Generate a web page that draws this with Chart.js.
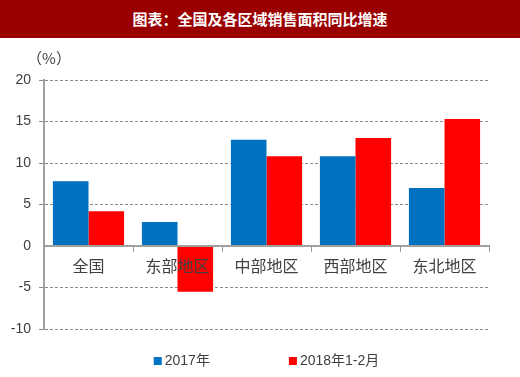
<!DOCTYPE html>
<html lang="zh-CN">
<head>
<meta charset="UTF-8">
<title>全国及各区域销售面积同比增速</title>
<script src="https://cdn.jsdelivr.net/npm/chart.js"></script>
<style>
  body { margin: 0; background: #fff; font-family: 'Noto Sans CJK SC', sans-serif; }
  .title-bar {
    width: 520px; height: 38px; background: #9b0000; color: #fff;
    font-weight: bold; font-size: 15px; line-height: 38px; text-align: center;
  }
  .chart-box { position: relative; width: 520px; height: 339px; }
</style>
</head>
<body>
<div class="title-bar">图表：全国及各区域销售面积同比增速</div>
<div class="chart-box"><canvas id="areaChart"></canvas></div>
<script>
const categories = ['全国', '东部地区', '中部地区', '西部地区', '东北地区'];
const seriesNames = ['2017年', '2018年1-2月'];
const values2017 = [7.8, 2.9, 12.8, 10.8, 7.0];
const values2018 = [4.2, -5.5, 10.8, 13.0, 15.3];
const seriesColors = ['#0070c0', '#ff0000'];
const yTicks = [-10, -5, 0, 5, 10, 15, 20];

// legend drawn by hand so the wide gap between items can match
const bottomLegend = {
  id: 'bottomLegend',
  afterDraw(chart) {
    const ctx = chart.ctx;
    const area = chart.chartArea;
    ctx.save();
    ctx.font = '14px "Liberation Sans", "Noto Sans CJK SC", sans-serif';
    const box = 8, gap = 3, itemGap = 79;
    const items = chart.data.datasets.map(ds => ({
      text: ds.label,
      color: ds.backgroundColor,
      w: box + gap + ctx.measureText(ds.label).width
    }));
    const total = items.reduce((s, it) => s + it.w, 0) + itemGap * (items.length - 1);
    let x = (area.left + area.right) / 2 - total / 2;
    const y = area.bottom + 32;
    ctx.textBaseline = 'middle';
    items.forEach(it => {
      ctx.fillStyle = it.color;
      ctx.fillRect(x, y - 4, box, box);
      ctx.fillStyle = '#404040';
      ctx.fillText(it.text, x + box + gap, y);
      x += it.w + itemGap;
    });
    // unit label above the y axis
    ctx.textAlign = 'center';
    ctx.font = '15px "Noto Sans CJK SC", sans-serif';
    ctx.fillText('（%）', area.left + 5, area.top - 22);
    ctx.restore();
  }
};

new Chart(document.getElementById('areaChart'), {
  type: 'bar',
  data: {
    labels: categories,
    datasets: [
      { label: seriesNames[0], data: values2017, backgroundColor: seriesColors[0] },
      { label: seriesNames[1], data: values2018, backgroundColor: seriesColors[1] }
    ]
  },
  options: {
    responsive: true,
    maintainAspectRatio: false,
    animation: false,
    categoryPercentage: 0.8,
    barPercentage: 1.0,
    layout: { padding: { top: 42, right: 31, bottom: 48, left: 0 } },
    plugins: {
      legend: { display: false },
      tooltip: { enabled: false }
    },
    scales: {
      x: {
        type: 'category',
        position: { y: 0 },
        grid: { offset: true, drawOnChartArea: false, tickLength: 5, color: '#999' },
        border: { color: '#a0a0a0', width: 2, z: 1 },
        ticks: {
          z: 1,
          color: '#404040',
          padding: 5,
          font: { family: '"Noto Sans CJK SC", sans-serif', size: 16 }
        }
      },
      y: {
        min: yTicks[0],
        max: yTicks[yTicks.length - 1],
        afterFit(scale) { scale.width = 44; },
        ticks: {
          stepSize: yTicks[1] - yTicks[0],
          color: '#404040',
          padding: 8,
          font: { family: '"Liberation Sans", Arial, sans-serif', size: 14 }
        },
        grid: {
          tickLength: 5,
          lineWidth: 1,
          color: ctx => (ctx.tick && ctx.tick.value === 0 ? 'rgba(0,0,0,0)' : '#8c8c8c')
        },
        border: { display: true, color: '#a0a0a0', width: 2, dash: [3, 2] }
      }
    }
  },
  plugins: [bottomLegend]
});
</script>
</body>
</html>
